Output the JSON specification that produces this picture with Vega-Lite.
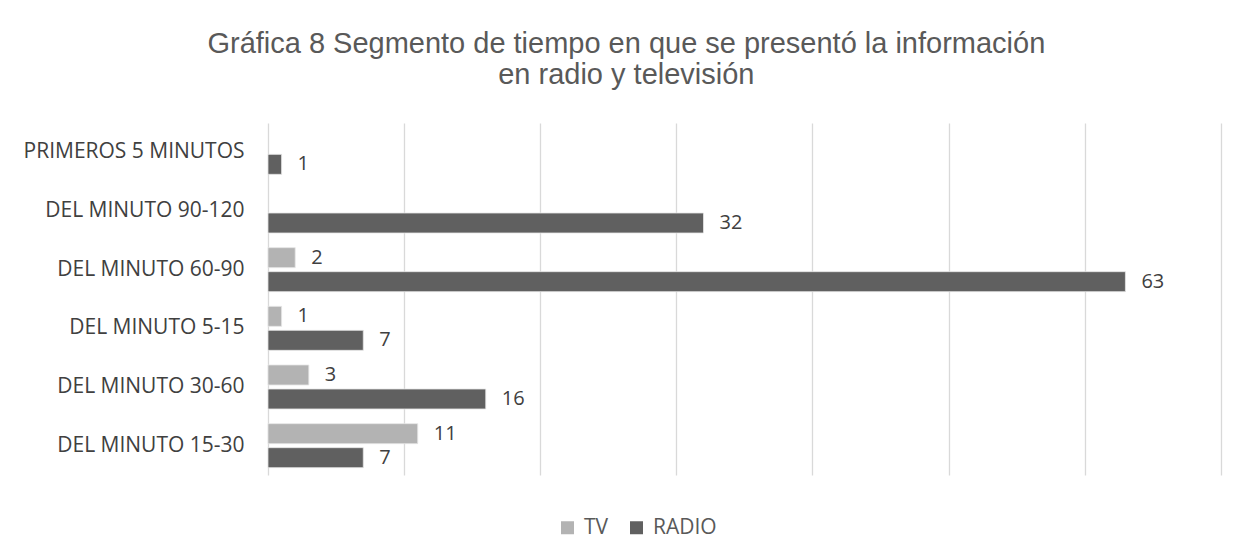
{
  "$schema": "https://vega.github.io/schema/vega-lite/v6.json",
  "autosize": {"type": "none"},
  "width": 952.7,
  "height": 352,
  "padding": {"left": 268, "top": 123, "right": 26, "bottom": 84},
  "background": "white",
  "title": {
    "text": ["Gráfica 8 Segmento de tiempo en que se presentó la información", "en radio y televisión"],
    "font": "Liberation Sans",
    "fontSize": 29,
    "fontWeight": "normal",
    "color": "#595959",
    "anchor": "middle",
    "dx": -118,
    "offset": 33,
    "lineHeight": 31
  },
  "config": {"view": {"stroke": null}},
  "data": {
    "values": [
      {"segmento": "PRIMEROS 5 MINUTOS", "medio": "RADIO", "valor": 1},
      {"segmento": "DEL MINUTO 90-120", "medio": "RADIO", "valor": 32},
      {"segmento": "DEL MINUTO 60-90", "medio": "TV", "valor": 2},
      {"segmento": "DEL MINUTO 60-90", "medio": "RADIO", "valor": 63},
      {"segmento": "DEL MINUTO 5-15", "medio": "TV", "valor": 1},
      {"segmento": "DEL MINUTO 5-15", "medio": "RADIO", "valor": 7},
      {"segmento": "DEL MINUTO 30-60", "medio": "TV", "valor": 3},
      {"segmento": "DEL MINUTO 30-60", "medio": "RADIO", "valor": 16},
      {"segmento": "DEL MINUTO 15-30", "medio": "TV", "valor": 11},
      {"segmento": "DEL MINUTO 15-30", "medio": "RADIO", "valor": 7}
    ]
  },
  "encoding": {
    "y": {
      "field": "segmento",
      "type": "nominal",
      "sort": ["PRIMEROS 5 MINUTOS", "DEL MINUTO 90-120", "DEL MINUTO 60-90", "DEL MINUTO 5-15", "DEL MINUTO 30-60", "DEL MINUTO 15-30"],
      "scale": {"paddingInner": 0.25, "paddingOuter": 0.125},
      "axis": {
        "title": null,
        "domain": false,
        "ticks": false,
        "labelPadding": 24,
        "labelFont": "Open Sans",
        "labelFontSize": 21,
        "labelColor": "#404040",
        "labelLimit": 400
      }
    },
    "yOffset": {
      "field": "medio",
      "type": "nominal",
      "sort": ["TV", "RADIO"],
      "scale": {"domain": ["TV", "RADIO"], "paddingInner": 0.167, "paddingOuter": 0}
    },
    "x": {
      "field": "valor",
      "type": "quantitative",
      "scale": {"domain": [0, 70], "nice": false},
      "axis": {
        "title": null,
        "values": [0, 10, 20, 30, 40, 50, 60, 70],
        "labels": false,
        "ticks": false,
        "domain": false,
        "grid": true,
        "gridColor": "#d9d9d9",
        "gridWidth": 1.3
      }
    }
  },
  "layer": [
    {
      "mark": {"type": "bar", "stroke": "#e6e6e6", "strokeWidth": 0.8},
      "encoding": {
        "color": {
          "field": "medio",
          "type": "nominal",
          "sort": ["TV", "RADIO"],
          "scale": {"domain": ["TV", "RADIO"], "range": ["#b3b3b3", "#606060"]},
          "legend": {
            "title": null,
            "orient": "none",
            "legendX": 289,
            "legendY": 394,
            "direction": "horizontal",
            "symbolType": "square",
            "symbolSize": 169,
            "symbolStrokeWidth": 0,
            "labelFont": "Open Sans",
            "labelFontSize": 21,
            "labelColor": "#595959",
            "labelOffset": 6,
            "columnPadding": 17
          }
        }
      }
    },
    {
      "mark": {"type": "text", "align": "left", "baseline": "middle", "dx": 16, "font": "Open Sans", "fontSize": 20, "color": "#404040"},
      "encoding": {"text": {"field": "valor", "type": "quantitative"}}
    }
  ]
}
